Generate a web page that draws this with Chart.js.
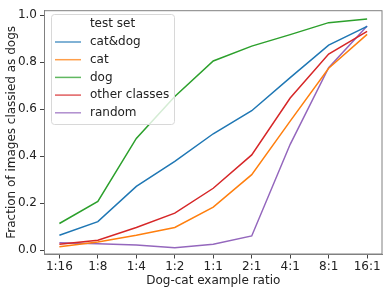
<!DOCTYPE html>
<html>
<head>
<meta charset="utf-8">
<script src="https://cdn.jsdelivr.net/npm/chart.js@4.4.1/dist/chart.umd.min.js"></script>
<style>
  html, body { margin: 0; padding: 0; background: #fff; }
  #wrap { width: 391px; height: 292px; }
</style>
</head>
<body>
<div id="wrap"><canvas id="ratioChart" width="391" height="292"></canvas></div>
<script>
// Dog-cat ratio experiment: fraction classified as dogs
const ratios = ['1:16', '1:8', '1:4', '1:2', '1:1', '2:1', '4:1', '8:1', '16:1'];
const yTicks = [0.0, 0.2, 0.4, 0.6, 0.8, 1.0];

const catDog = [0.063, 0.121, 0.271, 0.377, 0.495, 0.593, 0.734, 0.872, 0.952];
const cat = [0.014, 0.034, 0.063, 0.096, 0.183, 0.321, 0.549, 0.774, 0.918];
const dog = [0.113, 0.207, 0.475, 0.654, 0.805, 0.868, 0.917, 0.968, 0.984];
const otherClasses = [0.025, 0.042, 0.096, 0.157, 0.263, 0.405, 0.647, 0.834, 0.931];
const random = [0.031, 0.027, 0.021, 0.010, 0.025, 0.060, 0.450, 0.776, 0.954];

const seriesNames = ['cat&dog', 'cat', 'dog', 'other classes', 'random'];
const seriesData = [catDog, cat, dog, otherClasses, random];
const colors = ['#1f77b4', '#ff7f0e', '#2ca02c', '#d62728', '#9467bd'];

const FONT = '"DejaVu Sans", sans-serif';

function toPoints(arr) {
    return arr.map((v, i) => ({ x: i, y: v }));
}

// frame on all four sides, like matplotlib spines
const framePlugin = {
    id: 'frame',
    afterDraw(chart) {
        const a = chart.chartArea;
        const ctx = chart.ctx;
        ctx.save();
        ctx.strokeStyle = '#808080';
        ctx.lineWidth = 1;
        ctx.strokeRect(a.left + 0.5, a.top + 0.5, a.right - a.left - 1, a.bottom - a.top - 1);
        ctx.restore();
    }
};

// boxed legend with a title, drawn over the lines
const legendPlugin = {
    id: 'boxLegend',
    afterDatasetsDraw(chart) {
        const ctx = chart.ctx;
        const x0 = 51, y0 = 14, w = 123, h = 110;
        ctx.save();
        ctx.beginPath();
        ctx.roundRect(x0 + 0.5, y0 + 0.5, w, h, 3);
        ctx.fillStyle = 'rgba(255,255,255,0.8)';
        ctx.fill();
        ctx.strokeStyle = '#d8d8d8';
        ctx.lineWidth = 1;
        ctx.stroke();

        ctx.font = '12px ' + FONT;
        ctx.fillStyle = '#222';
        ctx.textBaseline = 'middle';
        ctx.textAlign = 'center';
        ctx.fillText('test set', 112.5, 24);

        ctx.textAlign = 'left';
        chart.data.datasets.forEach((ds, i) => {
            const y = 42 + i * 17.7;
            ctx.globalAlpha = 0.75;
            ctx.strokeStyle = ds.borderColor;
            ctx.lineWidth = 1.5;
            ctx.beginPath();
            ctx.moveTo(55, y);
            ctx.lineTo(81, y);
            ctx.stroke();
            ctx.globalAlpha = 1;
            ctx.fillText(ds.label, 90, y);
        });
        ctx.restore();
    }
};

new Chart(document.getElementById('ratioChart'), {
    type: 'line',
    data: {
        datasets: seriesNames.map((name, i) => ({
            label: name,
            data: toPoints(seriesData[i]),
            borderColor: colors[i],
            backgroundColor: colors[i],
            borderWidth: 1.5,
            pointRadius: 0,
            tension: 0,
            fill: false
        }))
    },
    options: {
        responsive: false,
        animation: false,
        layout: { padding: { top: 8, right: 8.5, left: 0, bottom: 0 } },
        plugins: {
            legend: { display: false },
            tooltip: { enabled: false }
        },
        scales: {
            x: {
                type: 'linear',
                min: -0.4,
                max: 8.4,
                afterFit: s => { s.height = 37.5; },
                afterBuildTicks: s => { s.ticks = ratios.map((r, i) => ({ value: i })); },
                ticks: {
                    callback: v => ratios[v],
                    font: { family: FONT, size: 12 },
                    color: '#222',
                    padding: 1,
                    maxRotation: 0,
                    autoSkip: false
                },
                grid: { drawOnChartArea: false, tickLength: 4, tickColor: '#444' },
                border: { color: '#808080' },
                title: {
                    display: true,
                    text: 'Dog-cat example ratio',
                    font: { family: FONT, size: 12 },
                    color: '#222',
                    padding: { top: 0, bottom: 4 }
                }
            },
            y: {
                min: -0.019,
                max: 1.021,
                afterFit: s => { s.width = 44; },
                afterBuildTicks: s => { s.ticks = yTicks.map(v => ({ value: v })); },
                ticks: {
                    callback: v => v.toFixed(1),
                    font: { family: FONT, size: 12 },
                    color: '#222',
                    padding: 3
                },
                grid: { drawOnChartArea: false, tickLength: 4, tickColor: '#444' },
                border: { color: '#808080' },
                title: {
                    display: true,
                    text: 'Fraction of images classied as dogs',
                    font: { family: FONT, size: 12 },
                    color: '#222',
                    padding: { top: 5, bottom: 0 }
                }
            }
        }
    },
    plugins: [framePlugin, legendPlugin]
});
</script>
</body>
</html>
